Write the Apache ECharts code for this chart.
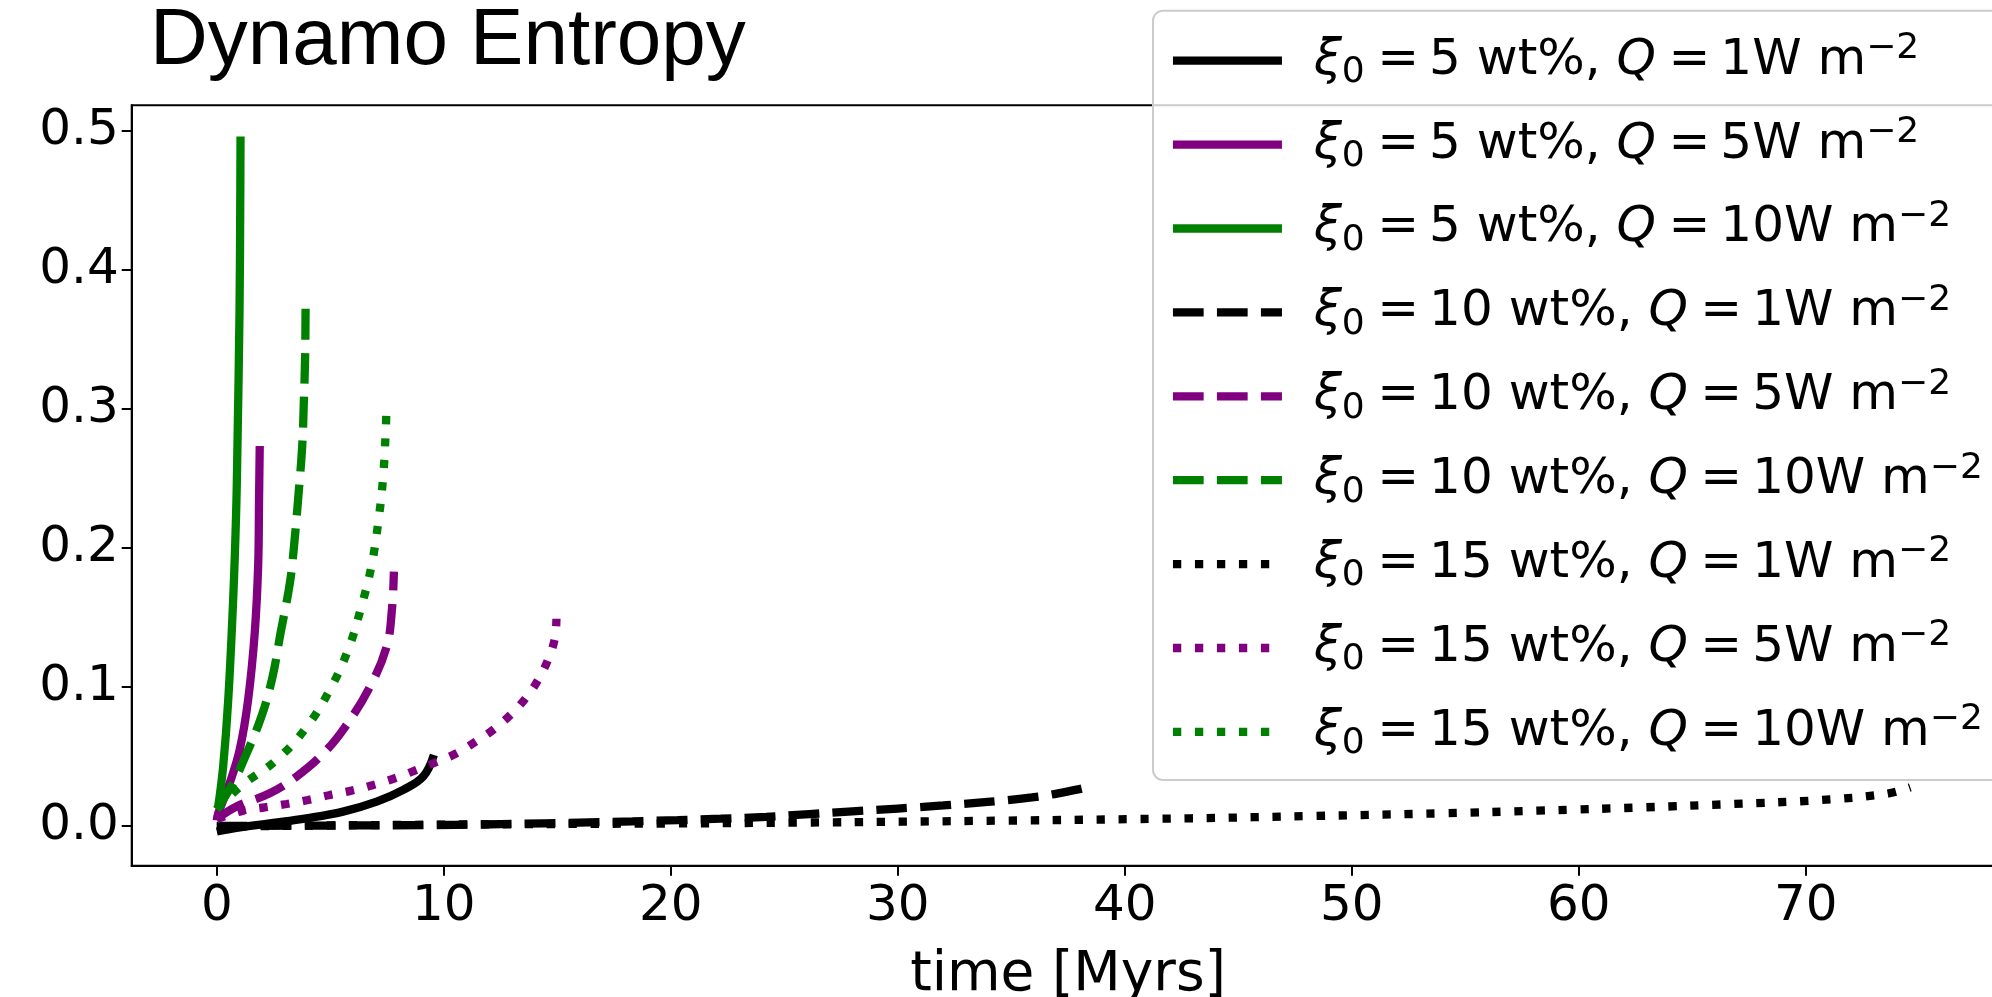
<!DOCTYPE html>
<html>
<head>
<meta charset="utf-8">
<script src="https://cdn.jsdelivr.net/npm/echarts@6/dist/echarts.min.js"></script>
<style>
  html, body { margin: 0; padding: 0; background: #ffffff; }
  #chart { width: 1992px; height: 997px; }
</style>
</head>
<body>
<div id="chart"></div>
<script>
// Axis ticks
const xTicks = [0, 10, 20, 30, 40, 50, 60, 70];
const yTicks = [0, 0.1, 0.2, 0.3, 0.4, 0.5];

// Runs: initial light-element fraction (wt%) and CMB heat flux (W m^-2)
const xi0 = [5, 5, 5, 10, 10, 10, 15, 15, 15];
const heatFlux = [1, 5, 10, 1, 5, 10, 1, 5, 10];

// Dynamo entropy vs time, [time (Myrs), entropy]
const xi5Q1 = [[0, -0.004], [1.01, -0.001], [2.33, 0.0019], [3.95, 0.0055], [5.56, 0.0103],
  [7.04, 0.0175], [8.21, 0.026], [9.09, 0.0355], [9.56, 0.051]];
const xi5Q5 = [[0, 0.004], [0.06, 0.009], [0.57, 0.031], [1.01, 0.055], [1.38, 0.091],
  [1.67, 0.139], [1.82, 0.187], [1.86, 0.235], [1.89, 0.2734]];
const xi5Q10 = [[0, 0.012], [0.06, 0.014], [0.28, 0.043], [0.5, 0.09], [0.72, 0.163],
  [0.85, 0.225], [0.91, 0.275], [1.0, 0.371], [1.03, 0.443], [1.044, 0.496]];
const xi10Q1 = [[0, 0.0], [5, 0.0003], [10.5, 0.0008], [12.5, 0.0013], [14.4, 0.0019],
  [16.4, 0.0026], [18.3, 0.0033], [20.3, 0.0042], [22.2, 0.0052], [24.2, 0.0066],
  [26.1, 0.0085], [28, 0.0105], [32, 0.0148], [35.9, 0.0205], [38, 0.0265], [38.45, 0.0285]];
const xi10Q5 = [[0, 0.005], [0.87, 0.014], [2.33, 0.0235], [3.51, 0.0355], [4.68, 0.052],
  [5.64, 0.071], [6.74, 0.100], [7.48, 0.129], [7.71, 0.155], [7.80, 0.183]];
const xi10Q10 = [[0, 0.012], [0.72, 0.031], [1.19, 0.0475], [1.97, 0.079], [2.45, 0.107],
  [2.81, 0.139], [3.22, 0.175], [3.41, 0.203], [3.58, 0.235], [3.76, 0.273],
  [3.83, 0.304], [3.89, 0.338], [3.91, 0.377]];
const xi15Q1 = [[0, -0.0005], [7.5, 0.0007], [20, 0.0018], [25.7, 0.0024], [34.5, 0.0038],
  [42.9, 0.0055], [48.4, 0.0072], [54, 0.0091], [58.2, 0.011], [62.9, 0.0134],
  [66.8, 0.0158], [70.7, 0.0187], [73.5, 0.023], [74.6, 0.0278]];
const xi15Q5 = [[0, 0.005], [1.16, 0.011], [2.11, 0.0134], [3.07, 0.0158], [4.02, 0.0187],
  [4.98, 0.0223], [5.93, 0.0254], [6.89, 0.0295], [7.84, 0.0343], [8.8, 0.0403],
  [9.68, 0.046], [10.56, 0.0523], [11.41, 0.0607], [12.2, 0.0695], [12.94, 0.080],
  [13.61, 0.092], [14.15, 0.105], [14.6, 0.12], [14.89, 0.135], [14.96, 0.149]];
const xi15Q10 = [[0, 0.012], [1.01, 0.028], [2.63, 0.0475], [3.95, 0.071], [4.98, 0.098],
  [5.79, 0.127], [6.37, 0.158], [6.81, 0.187], [7.13, 0.221], [7.33, 0.252],
  [7.44, 0.284], [7.47, 0.30]];

const runData = [xi5Q1, xi5Q5, xi5Q10, xi10Q1, xi10Q5, xi10Q10, xi15Q1, xi15Q5, xi15Q10];

// Styling: colour by heat flux, dash pattern by composition
const LW = 8.3;
const fluxColor = { 1: '#000000', 5: '#800080', 10: '#008000' };
const xiDash = { 5: 'solid', 10: [3.7 * LW, 1.6 * LW], 15: [1 * LW, 1.65 * LW] };

const names = xi0.map((x, i) => `ξ0 = ${x} wt%, Q = ${heatFlux[i]}W m−2`);

const series = runData.map((d, i) => ({
  name: names[i],
  type: 'line',
  data: d,
  symbol: 'none',
  smooth: 0.4,
  lineStyle: { color: fluxColor[heatFlux[i]], width: LW, type: xiDash[xi0[i]], cap: 'butt' },
  itemStyle: { color: fluxColor[heatFlux[i]] },
  emphasis: { disabled: true },
  z: 2
}));

const FONT = 'DejaVu Sans';
const SP_L = '\u2005';  // narrow spacing around the relation sign
const SP_R = '\u2009';
const chart = echarts.init(document.getElementById('chart'), null, { renderer: 'canvas' });
chart.setOption({
  animation: false,
  backgroundColor: '#ffffff',
  title: {
    text: 'Dynamo Entropy',
    left: 150,
    top: 2,
    padding: 0,
    textStyle: { fontFamily: 'Liberation Sans', fontSize: 80, fontWeight: 'normal', color: '#000000' }
  },
  grid: {
    left: 131.7, top: 105.3, bottom: 131.3, right: -12.5,
    outerBoundsMode: 'none',
    containLabel: false,
    show: true, borderColor: '#000000', borderWidth: 2, backgroundColor: 'transparent'
  },
  legend: {
    orient: 'vertical',
    left: 1153,
    top: 10.7,
    padding: [20, 40, 18, 15.8],
    itemGap: 23.9,
    itemWidth: 109,
    itemHeight: 20,
    backgroundColor: 'rgba(255,255,255,0.8)',
    borderColor: '#cccccc',
    borderWidth: 2,
    borderRadius: 10,
    selectedMode: false,
    itemStyle: { opacity: 0 },
    lineStyle: { width: LW, opacity: 1 },
    formatter: function (name) {
      const i = names.indexOf(name);
      return `{g|}{i|ξ}{sub|0}{n|${SP_L}=${SP_R}${xi0[i]} wt%, }{i|Q}{n|${SP_L}=${SP_R}${heatFlux[i]}W m}{sup|−2}`;
    },
    textStyle: {
      color: '#000000',
      fontFamily: FONT,
      fontSize: 50,
      rich: {
        g: { width: 27, height: 60 },
        n: { fontFamily: FONT, fontSize: 50, lineHeight: 60, color: '#000' },
        i: { fontFamily: FONT, fontSize: 50, fontStyle: 'italic', lineHeight: 60, color: '#000' },
        sub: { fontFamily: FONT, fontSize: 36, lineHeight: 34, verticalAlign: 'bottom', color: '#000' },
        sup: { fontFamily: FONT, fontSize: 36, lineHeight: 35, verticalAlign: 'top', color: '#000' }
      }
    },
    data: names
  },
  xAxis: {
    type: 'value',
    min: -3.75,
    max: 78.75,
    name: 'time [Myrs]',
    nameLocation: 'middle',
    nameGap: 83,
    nameTextStyle: { fontFamily: FONT, fontSize: 55, color: '#000000' },
    axisLine: { show: true, onZero: false, lineStyle: { color: '#000000', width: 2 } },
    axisTick: { show: true, inside: false, length: 10, lineStyle: { color: '#000000', width: 2 }, customValues: xTicks },
    axisLabel: { show: true, margin: 16, fontFamily: FONT, fontSize: 50, color: '#000000', customValues: xTicks,
      formatter: v => String(v) },
    splitLine: { show: false }
  },
  yAxis: {
    type: 'value',
    min: -0.0286,
    max: 0.5185,
    axisLine: { show: true, onZero: false, lineStyle: { color: '#000000', width: 2 } },
    axisTick: { show: true, inside: false, length: 10, lineStyle: { color: '#000000', width: 2 }, customValues: yTicks },
    axisLabel: { show: true, margin: 13, fontFamily: FONT, fontSize: 50, color: '#000000', customValues: yTicks,
      formatter: v => v.toFixed(1) },
    splitLine: { show: false }
  },
  series: series
});
</script>
</body>
</html>
